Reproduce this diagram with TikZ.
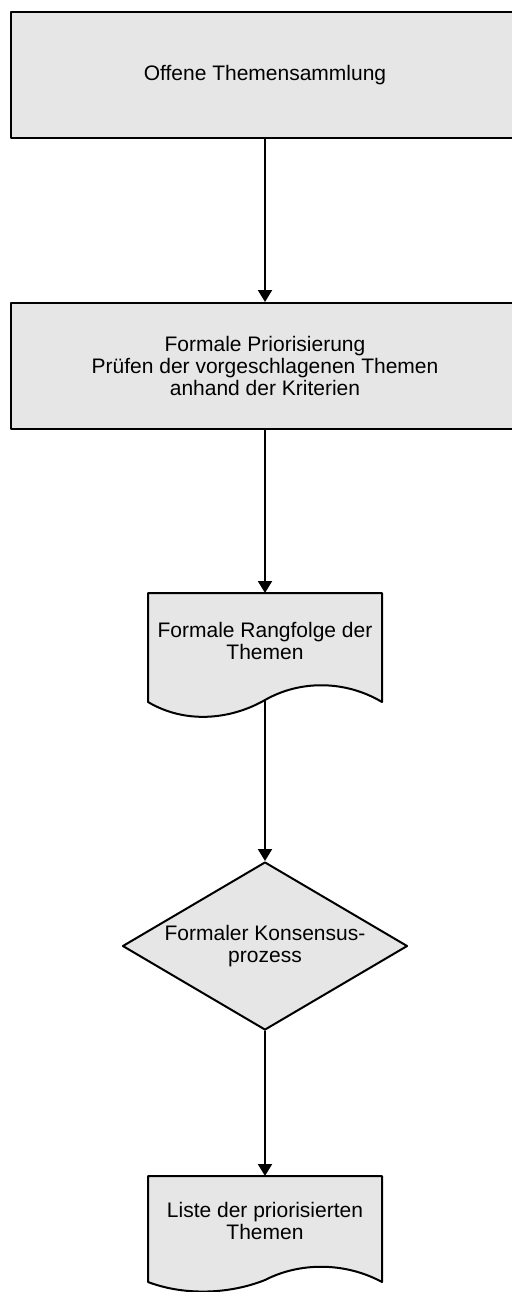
\documentclass[tikz,border=0pt]{standalone}
\usepackage{fontspec}
\setmainfont{Liberation Sans}
\usetikzlibrary{arrows.meta}
\usetikzlibrary{shapes.geometric}
\definecolor{boxgray}{RGB}{230,230,230}
\begin{document}
\begin{tikzpicture}[line cap=round,line join=round,x=0.5pt,y=-0.5pt,
	txt/.style={inner sep=0pt,align=center,font=\fontsize{10.5}{11}\selectfont},
	proc/.style={txt,draw=black,fill=boxgray,line width=1pt,minimum width=254pt,minimum height=63pt},
	decide/.style={txt,diamond,aspect=1.7,draw=black,fill=boxgray,line width=1pt,minimum width=142.5pt,minimum height=84pt},
	docshape/.style={draw=black,fill=boxgray,line width=1pt},
	arr/.style={-{Triangle[length=6pt,width=7pt]},line width=1pt}]
						\useasboundingbox (0,0) rectangle (512,1292);
						\clip (0,0) rectangle (512,1292);
						\node[proc] (samml) at (265,75) {Offene Themensammlung};
						\node[proc] (prio) at (265,366) {Formale Priorisierung\\Prüfen der vorgeschlagenen Themen\\anhand der Kriterien};
						\draw[docshape] (148,593) -- (382,593) -- (382,702) .. controls (345,680) and (300,680) .. (265,700) .. controls (230,720) and (185,724) .. (148,702) -- cycle;
						\node[txt] (rang) at (265,641) {Formale Rangfolge der\\Themen};
						\coordinate (rangtop) at (265,593);
						\coordinate (rangwave) at (265,700);
						\node[decide] (konsens) at (265,946) {Formaler Konsensus-\\prozess};
						\draw[docshape] (148,1176) -- (382,1176) -- (382,1282) .. controls (345,1262) and (300,1262) .. (265,1280) .. controls (230,1294) and (185,1296) .. (148,1282) -- cycle;
						\node[txt] (liste) at (265,1221) {Liste der priorisierten\\Themen};
						\coordinate (listetop) at (265,1176);
						\draw[arr] (samml.south) -- (prio.north);
						\draw[arr] (prio.south) -- (rangtop);
						\draw[arr] (rangwave) -- (konsens.north);
						\draw[arr] (konsens.south) -- (listetop);
					\end{tikzpicture}
\end{document}
